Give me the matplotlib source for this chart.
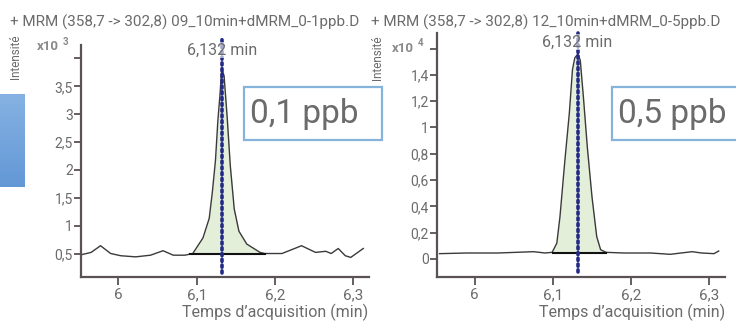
import numpy as np
import matplotlib
matplotlib.use("Agg")
import matplotlib.pyplot as plt
from matplotlib.patches import Rectangle

plt.rcParams["font.family"] = ["Roboto", "DejaVu Sans"]

TEXT = "#6b6b6b"
SPINE = "#5a5252"

# --- left chromatogram: 0,1 ppb (intensity x10^3) ---
left_title = "+ MRM (358,7 -> 302,8) 09_10min+dMRM_0-1ppb.D"
left_t = [5.953, 5.965, 5.977, 5.990, 6.003, 6.022, 6.041, 6.057, 6.070, 6.085,
          6.095, 6.108, 6.116, 6.120, 6.124, 6.127, 6.130, 6.132, 6.135, 6.139,
          6.143, 6.148, 6.154, 6.164, 6.181, 6.187, 6.209, 6.227, 6.234, 6.252,
          6.265, 6.272, 6.281, 6.290, 6.297, 6.306, 6.313]
left_i = [0.48, 0.52, 0.64, 0.50, 0.46, 0.44, 0.47, 0.55, 0.47, 0.47,
          0.50, 0.78, 1.13, 1.60, 2.17, 2.87, 3.39, 3.82, 3.69, 2.94,
          2.07, 1.30, 0.90, 0.67, 0.52, 0.50, 0.50, 0.60, 0.64, 0.52,
          0.54, 0.50, 0.59, 0.46, 0.43, 0.52, 0.59]
left_area = (6.092, 6.187, 0.5)
left_yticks = [0.5, 1, 1.5, 2, 2.5, 3, 3.5, 4]
left_ylabels = ["0,5", "1", "1,5", "2", "2,5", "3", "3,5", ""]

# --- right chromatogram: 0,5 ppb (intensity x10^4) ---
right_title = "+ MRM (358,7 -> 302,8) 12_10min+dMRM_0-5ppb.D"
right_t = [5.955, 5.990, 6.030, 6.075, 6.090, 6.099, 6.105, 6.109, 6.115, 6.121,
           6.125, 6.128, 6.132, 6.135, 6.139, 6.144, 6.150, 6.156, 6.161, 6.168,
           6.190, 6.225, 6.250, 6.278, 6.290, 6.306, 6.312]
right_i = [0.04, 0.045, 0.045, 0.055, 0.045, 0.05, 0.12, 0.32, 0.73, 1.11,
           1.44, 1.53, 1.56, 1.51, 1.23, 0.85, 0.47, 0.17, 0.07, 0.05,
           0.045, 0.045, 0.035, 0.055, 0.045, 0.04, 0.06]
right_area = (6.100, 6.168, 0.045)
right_yticks = [0, 0.2, 0.4, 0.6, 0.8, 1, 1.2, 1.4, 1.6]
right_ylabels = ["0", "0,2", "0,4", "0,6", "0,8", "1", "1,2", "1,4", ""]

xticks = [6, 6.1, 6.2, 6.3]
xlabels = ["6", "6,1", "6,2", "6,3"]
rt = 6.132


def draw_panel(ax, t, inten, area, yticks, ylabels, ylim, line_y):
    t = np.array(t)
    inten = np.array(inten)
    x0, x1, base = area
    m = (t >= x0) & (t <= x1)
    tt = np.concatenate([[x0], t[m], [x1]])
    ii = np.concatenate([[np.interp(x0, t, inten)], inten[m], [np.interp(x1, t, inten)]])
    ax.fill_between(tt, base, np.maximum(ii, base), color="#e3efd9", lw=0)
    ax.plot(t, inten, color="#3a3a3a", lw=1.0)
    ax.plot([x0, x1], [base, base], color="#111111", lw=1.5)
    ax.plot([rt, rt], line_y, color="#232a86", lw=2.6, ls=(0, (0.6, 1.0)),
            dash_capstyle="round", clip_on=False, zorder=5)

    ax.set_xlim(5.952, 6.32)
    ax.set_ylim(*ylim)
    ax.set_xticks(xticks)
    ax.set_xticklabels(xlabels)
    ax.set_yticks(yticks)
    ax.set_yticklabels(ylabels)
    for s in ["top", "right"]:
        ax.spines[s].set_visible(False)
    for s in ["left", "bottom"]:
        ax.spines[s].set_color(SPINE)
        ax.spines[s].set_linewidth(1.6)
    ax.tick_params(axis="y", colors=SPINE, labelcolor=TEXT, labelsize=10,
                   length=5, width=1.3, pad=1)
    ax.tick_params(axis="x", colors=SPINE, labelcolor=TEXT, labelsize=11,
                   length=6, width=1.3, pad=2)
    ax.set_xlabel("Temps d\u2019acquisition (min)", color=TEXT, fontsize=11.5,
                  loc="right", labelpad=1)
    return ax


fig = plt.figure(figsize=(7.36, 3.22), dpi=100)

ax1 = fig.add_axes([0.110, 0.140, 0.391, 0.720])
draw_panel(ax1, left_t, left_i, left_area, left_yticks, left_ylabels,
           (0.08, 4.24), (0.15, 4.37))

ax2 = fig.add_axes([0.594, 0.140, 0.391, 0.758])
draw_panel(ax2, right_t, right_i, right_area, right_yticks, right_ylabels,
           (-0.137, 1.72), (-0.10, 1.72))


def fx(px):
    return px / 736


def fy(py):
    return 1 - py / 322


# retention time labels
for x, y in [(222, 50), (577, 42)]:
    fig.text(fx(x), fy(y), "6,132 min", fontsize=11.5, color=TEXT,
             ha="center", va="center", zorder=6,
             bbox=dict(fc="white", ec="none", alpha=0.6, pad=0.5))

# titles and rotated axis labels
fig.text(fx(10), fy(22), left_title, fontsize=11, color=TEXT, va="center")
fig.text(fx(371), fy(22), right_title, fontsize=11, color=TEXT, va="center")
fig.text(fx(15), fy(57), "Intensit\u00e9", fontsize=8.5, color=TEXT,
         rotation=90, ha="center", va="center")
fig.text(fx(377), fy(58), "Intensit\u00e9", fontsize=8.5, color=TEXT,
         rotation=90, ha="center", va="center")

# exponent markers
for x, y, e in [(37, 47, "3"), (392, 48, "4")]:
    fig.text(fx(x), fy(y), "x10", fontsize=9.5, fontweight="bold",
             color="#8a8a8a", ha="left", va="center")
    fig.text(fx(x + 26), fy(y - 5), e, fontsize=7, fontweight="bold",
             color="#8a8a8a", ha="left", va="center")

# concentration boxes
for x, w, label in [(244, 138, "0,1 ppb"), (612, 130, "0,5 ppb")]:
    fig.patches.append(Rectangle((fx(x), fy(140)), w / 736, 53 / 322,
                                 transform=fig.transFigure, fc="white",
                                 ec="#86b3dc", lw=1.6, zorder=10))
    fig.text(fx(x + 6), fy(114), label, fontsize=24, color=TEXT,
             va="center", ha="left", zorder=11)

# blue tab at the left edge
tab = fig.add_axes([0, fy(187), 25 / 736, 93 / 322])
grad = np.linspace(0, 1, 64).reshape(-1, 1)
tab.imshow(grad, aspect="auto", cmap=matplotlib.colors.LinearSegmentedColormap.from_list(
    "tab", ["#86b2e3", "#6398d6"]))
tab.axis("off")

fig.savefig("out.png", dpi=100)
